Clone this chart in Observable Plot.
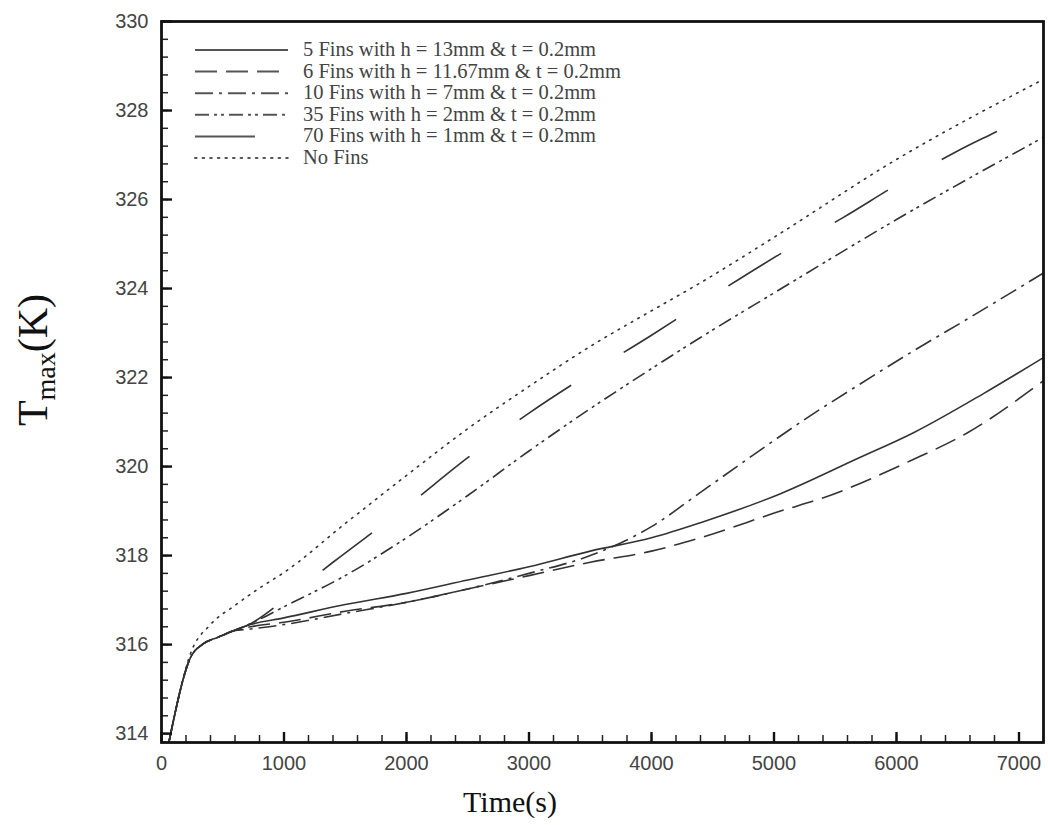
<!DOCTYPE html>
<html><head><meta charset="utf-8">
<script src="https://cdn.jsdelivr.net/npm/d3@7"></script>
<script src="https://cdn.jsdelivr.net/npm/@observablehq/plot@0.6"></script>
<style>body{margin:0;background:#fff}#chart{width:1048px;height:825px}</style>
</head><body><div id="chart"></div>
<script>
// ---- data ----
const seriesNames = [
  "5 Fins with h = 13mm & t = 0.2mm",
  "6 Fins with h = 11.67mm & t = 0.2mm",
  "10 Fins with h = 7mm & t = 0.2mm",
  "35 Fins with h = 2mm & t = 0.2mm",
  "70 Fins with h = 1mm & t = 0.2mm",
  "No Fins"
];
// shared start of all curves
const startTime = [60, 237, 343, 457, 588];
const startTemp = [313.8, 315.71, 316.02, 316.16, 316.31];

const time5 = [727, 1000, 1500, 2000, 2500, 3000, 3500, 4000, 4400, 5053, 5682, 6139, 6710, 7200];
const temp5 = [316.45, 316.6, 316.9, 317.15, 317.45, 317.75, 318.1, 318.4, 318.74, 319.39, 320.18, 320.76, 321.64, 322.45];

const time6 = [727, 1000, 1500, 2000, 2500, 3000, 3500, 4000, 4400, 5053, 5404, 6114, 6580, 7200];
const temp6 = [316.4, 316.5, 316.75, 316.95, 317.25, 317.55, 317.85, 318.1, 318.4, 319.0, 319.3, 320.13, 320.76, 321.93];

const time10 = [727, 1000, 1500, 2000, 2500, 3000, 3500, 4000, 4400, 4800, 5273, 5700, 6139, 6600, 7200];
const temp10 = [316.35, 316.45, 316.7, 316.95, 317.25, 317.6, 318.0, 318.65, 319.42, 320.2, 321.1, 321.85, 322.6, 323.35, 324.35];

const time35 = [727, 1000, 1500, 2000, 2500, 3000, 3500, 4000, 4400, 5000, 6000, 7200];
const temp35 = [316.47, 316.85, 317.55, 318.4, 319.35, 320.35, 321.3, 322.2, 322.9, 323.9, 325.55, 327.4];

const time70 = [727, 1000, 1400, 2000, 2500, 3000, 3500, 4000, 4400, 5094, 5567, 6033, 6506, 7000, 7200];
const temp70 = [316.47, 317.0, 317.85, 319.1, 320.2, 321.2, 322.1, 322.95, 323.66, 324.85, 325.6, 326.38, 327.1, 327.8, 328.15];

const timeNo = [60, 237, 400, 600, 800, 1000, 1500, 2000, 2500, 3000, 3500, 4000, 4400, 5000, 6000, 7200];
const tempNo = [313.8, 315.8, 316.45, 316.88, 317.27, 317.62, 318.72, 319.8, 320.85, 321.8, 322.7, 323.5, 324.13, 325.15, 326.9, 328.7];

const xMajor = [0, 1000, 2000, 3000, 4000, 5000, 6000, 7000];
const yMajor = [314, 316, 318, 320, 322, 324, 326, 328, 330];

// ---- build table ----
function withStart(ts, vs) {
  return { t: startTime.concat(ts), v: startTemp.concat(vs) };
}
const rawSeries = [
  withStart(time5, temp5),
  withStart(time6, temp6),
  withStart(time10, temp10),
  withStart(time35, temp35),
  withStart(time70, temp70),
  { t: timeNo, v: tempNo }
];
const rows = [];
rawSeries.forEach((s, i) => s.t.forEach((t, j) => rows.push({ series: seriesNames[i], time: t, temp: s.v[j] })));

// styles
const dashStyles = ["none", "22,9", "18,6,3,6", "14,5,3,4,3,5", "62,62", "1.6,6"];
const legendLen = [93, 93, 93, 93, 60, 93];

const xDomain = [0, 7200], yDomain = [313.8, 330];
const xMinor = d3.range(0, 7201, 200);
const yMinor = d3.range(0, 41).map(i => +(314 + i * 0.4).toFixed(1)).filter(v => v <= 330);

const W = 1048, H = 825, ML = 161, MR = 5, MT = 21, MB = 83;
const PW = W - ML - MR, PH = H - MT - MB;
// pixel tick lengths expressed in data units for inward ticks
const xPer = (xDomain[1] - xDomain[0]) / PW, yPer = (yDomain[1] - yDomain[0]) / PH;

const lineMarks = seriesNames.map((name, i) =>
  Plot.line(rows.filter(r => r.series === name), {
    x: "time", y: "temp", stroke: "#333", strokeWidth: 1.6,
    strokeDasharray: dashStyles[i] === "none" ? null : dashStyles[i],
    strokeLinecap: i === 5 ? "round" : "butt",
    curve: "monotone-x", clip: true
  })
);

const tickFont = { fontSize: 20, fontFamily: "Liberation Sans, Arial, sans-serif", fill: "#444" };

const chart = Plot.plot({
  width: W, height: H,
  marginLeft: ML, marginRight: MR, marginTop: MT, marginBottom: MB,
  x: { domain: xDomain, label: null },
  y: { domain: yDomain, label: null },
  style: { background: "#fff", overflow: "visible" },
  marks: [
    ...lineMarks,
    // inward tick marks
    Plot.ruleY(yMinor, { y: d => d, x1: xDomain[0], x2: xDomain[0] + 7 * xPer, stroke: "#222", strokeWidth: 1.5 }),
    Plot.ruleY(yMajor, { y: d => d, x1: xDomain[0], x2: xDomain[0] + 11 * xPer, stroke: "#111", strokeWidth: 2.4 }),
    Plot.ruleX(xMinor, { x: d => d, y1: yDomain[0], y2: yDomain[0] + 7 * yPer, stroke: "#222", strokeWidth: 1.5 }),
    Plot.ruleX(xMajor, { x: d => d, y1: yDomain[0], y2: yDomain[0] + 10 * yPer, stroke: "#111", strokeWidth: 2.4 }),
    // tick labels
    Plot.axisY(yMajor, { tickSize: 0, tickPadding: 13, label: null, tickFormat: d => String(d), ...tickFont }),
    Plot.axisX(xMajor, { tickSize: 0, tickPadding: 13, label: null, tickFormat: d => String(d), ...tickFont }),
    Plot.frame({ stroke: "#111", strokeWidth: 2.8 })
  ]
});
document.getElementById("chart").appendChild(chart);

// ---- axis titles & legend (drawn over the plot svg) ----
const svg = d3.select(chart);
const serif = "Liberation Serif, Times New Roman, serif";
svg.append("text")
  .attr("x", 510).attr("y", 812)
  .attr("text-anchor", "middle")
  .attr("font-family", serif).attr("font-size", 30).attr("fill", "#111")
  .text("Time(s)");

const yt = svg.append("text")
  .attr("transform", "translate(47,360) rotate(-90)")
  .attr("text-anchor", "middle")
  .attr("font-family", serif).attr("font-size", 42).attr("fill", "#111");
yt.append("tspan").text("T");
yt.append("tspan").attr("font-size", 28).attr("dy", 8).text("max");
yt.append("tspan").attr("dy", -8).text("(K)");

const lg = svg.append("g");
seriesNames.forEach((name, i) => {
  const y = 50 + i * 21.6;
  lg.append("line")
    .attr("x1", 195).attr("x2", 195 + legendLen[i])
    .attr("y1", y).attr("y2", y)
    .attr("stroke", "#555").attr("stroke-width", 2)
    .attr("stroke-linecap", i === 5 ? "round" : "butt")
    .attr("stroke-dasharray", i === 4 ? null : (dashStyles[i] === "none" ? null : dashStyles[i]));
  lg.append("text")
    .attr("x", 303).attr("y", y + 6)
    .attr("text-anchor", "start")
    .attr("font-family", serif).attr("font-size", 20.5).attr("fill", "#444")
    .text(name);
});
</script>
</body></html>
